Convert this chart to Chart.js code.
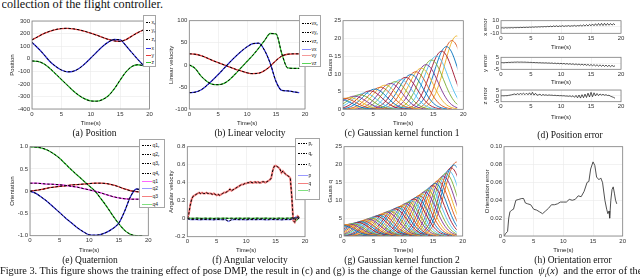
<!DOCTYPE html>
<html>
<head>
<meta charset="utf-8">
<script src="https://cdn.jsdelivr.net/npm/chart.js@4.4.1/dist/chart.umd.min.js"></script>
<style>
body{margin:0;width:640px;height:280px;overflow:hidden;background:#fff;position:relative;font-family:"Liberation Serif",serif}
.cap{position:absolute;font-size:9.5px;color:#111;white-space:nowrap;transform:translate(-50%,-50%)}
.txt{position:absolute;left:0;width:640px;overflow:hidden;white-space:nowrap;color:#111}
.lg{position:absolute;background:#fff;border:0.8px solid #a5a5a5;font:5px "Liberation Sans",sans-serif;color:#222;z-index:5;box-sizing:border-box}
.lg div{position:absolute;left:1.5px;height:6px;line-height:6px;white-space:nowrap;transform:translateY(-50%)}
.lg i{display:inline-block;vertical-align:middle;height:1px;margin-right:1px}
.lg i.d{background:repeating-linear-gradient(90deg,#000 0 1.6px,transparent 1.6px 2.6px)}
.lg sub{font-size:4px;vertical-align:-1.2px}
</style>
</head>
<body>
<div class="txt" style="top:-3px;font-size:12.2px;left:1.5px">collection of the flight controller.</div>

<script>
// ---- sample times
const tSec = [0,1,2,3,4,5,6,7,8,9,10,11,12,13,14,15,16,17,18,19];

// (a) position
const posX = [130,85,35,-20,-60,-90,-104,-100,-78,-40,5,52,97,132,153,150,103,48,-5,-55];
const posY = [150,175,200,218,232,240,242,238,230,218,203,187,170,153,142,138,152,180,207,230];
const posZ = [-18,-22,-40,-75,-120,-165,-210,-255,-292,-320,-336,-338,-325,-295,-240,-170,-105,-62,-48,-55];

// (b) linear velocity
const velX = [-63,-62,-57,-47,-35,-22,-8,6,19,31,41,48,49,33,3,-38,-58,-59,-61,-63];
const velY = [25,24,21,16,10,5,0,-5,-10,-14,-18,-20,-19,-13,-3,10,20,24,25,25];
const velZ = [0,-8,-25,-37,-44,-45,-42,-33,-20,-6,8,22,38,55,71,70,25,-7,-8,-8];

// (e) quaternion
const quat1 = [0.18,0.18,0.17,0.16,0.155,0.145,0.13,0.11,0.09,0.06,0.03,0,-0.04,-0.08,-0.12,-0.15,-0.17,-0.18,-0.18,-0.18];
const quat2 = [0,-0.05,-0.14,-0.24,-0.36,-0.48,-0.6,-0.71,-0.82,-0.91,-0.98,-0.99,-0.97,-0.92,-0.84,-0.72,-0.45,-0.12,0.05,0.02];
const quat3 = [0,0.02,0.04,0.07,0.09,0.11,0.12,0.14,0.15,0.16,0.17,0.18,0.18,0.17,0.14,0.1,0.05,0.01,-0.01,-0.02];
const quat4 = [1,0.99,0.97,0.92,0.84,0.74,0.61,0.48,0.36,0.24,0.12,0,-0.17,-0.35,-0.55,-0.73,-0.88,-0.97,-1,-1];

// (f) angular velocity, q every 0.25 s, p and r every 0.5 s
const angQ = [0.00,0.05,0.15,0.22,0.25,0.26,0.27,0.28,0.29,0.28,0.29,0.28,0.28,0.29,0.28,0.28,0.28,
  0.27,0.28,0.27,0.26,0.27,0.26,0.27,0.28,0.29,0.29,0.30,0.31,0.33,0.31,0.32,0.33,
  0.34,0.35,0.36,0.37,0.38,0.38,0.39,0.39,0.40,0.40,0.41,0.40,0.40,0.41,0.40,0.41,
  0.40,0.40,0.41,0.41,0.40,0.41,0.42,0.43,0.45,0.53,0.58,0.59,0.58,0.57,0.55,0.51,
  0.53,0.51,0.49,0.48,0.47,0.45,0.25,-0.02,-0.04,0.01,0.03,0.01];
const angP = [0,-0.01,-0.01,-0.008,-0.012,-0.01,-0.009,-0.011,-0.01,-0.012,-0.008,-0.01,-0.011,-0.01,-0.03,-0.012,-0.009,-0.01,-0.011,-0.01,
  -0.012,-0.009,-0.01,-0.011,-0.01,-0.008,-0.01,-0.012,-0.01,-0.009,-0.011,-0.01,-0.012,-0.01,-0.009,-0.01,0.0,0.02,0.0];
const angR = [0.005,0.006,0.004,0.007,0.005,0.003,0.006,0.004,0.005,0.002,0.006,0.004,0.005,0.006,0.004,0.005,0.003,0.006,0.005,0.004,
  0.006,0.005,0.003,0.005,0.006,0.004,0.005,0.006,0.004,0.005,0.003,0.006,0.005,0.004,0.006,0.005,0.01,-0.02,0.01];

// (d) position errors every 0.25 s
const errX = [-1.5,-1.2,-1.8,-1.0,-1.6,-1.1,-1.4,-0.9,-1.5,-0.8,-1.2,-0.7,-1.1,-0.5,-1.0,-0.4,-0.8,
  -0.3,-0.7,-0.1,-0.5,0.1,-0.4,0.3,-0.2,0.4,0.0,0.6,0.1,0.8,0.2,1.0,0.4,
  1.4,0.3,1.8,0.6,2.0,0.5,1.7,0.9,2.2,0.8,1.9,1.2,2.3,1.0,2.0,1.4,
  2.6,1.1,2.4,1.6,2.9,1.3,3.4,1.5,3.8,1.6,4.2,1.9,4.8,2.0,5.2,2.2,
  5.6,2.4,5.8,2.3,5.9,2.6,5.7,2.8,5.5,3.0,5.2,3.4];
const errY = [0.5,0.6,0.4,0.7,0.6,0.8,0.7,0.9,0.8,1.0,0.9,1.1,0.9,1.0,1.0,0.9,1.0,
  0.8,0.9,0.7,0.8,0.6,0.7,0.5,0.6,0.4,0.5,0.3,0.4,0.2,0.4,0.1,0.3,
  0.0,0.3,-0.2,0.2,-0.3,0.1,-0.4,0.0,-0.5,-0.1,-0.7,-0.2,-0.8,-0.3,-0.9,-0.4,
  -1.1,-0.5,-1.2,-0.6,-1.4,-0.7,-1.5,-0.8,-1.7,-0.9,-1.9,-1.0,-2.0,-1.1,-2.2,-1.2,
  -2.4,-1.3,-2.5,-1.4,-2.6,-1.5,-2.7,-1.6,-2.8,-1.7,-2.6,-2.1];
const errZ = [0.0,0.1,0.0,0.2,0.1,0.4,0.6,0.9,1.2,1.6,1.0,1.9,1.1,2.0,1.2,2.2,1.0,
  2.3,0.9,2.6,0.8,3.0,0.6,2.2,0.5,0.9,1.4,0.3,1.2,0.5,0.9,0.4,0.8,
  0.5,0.6,0.3,0.5,0.2,0.3,0.1,0.2,0.0,0.1,-0.2,-0.1,-0.4,0.0,-0.7,0.1,
  -1.3,0.4,-1.7,0.7,-1.9,1.0,-1.6,1.5,-1.4,2.3,-1.0,3.0,-0.8,2.6,0.0,2.0,
  0.2,1.6,0.6,1.3,0.5,1.0,0.3,0.5,-0.3,-0.8,-1.3,-2.0];

// (h) orientation error
const oriTime = [0,0.3,0.6,0.8,1,1.3,1.6,2,2.5,3,3.3,3.6,4,4.5,5,5.5,6,6.5,7,7.5,8,8.5,9,9.5,10,10.5,11,11.5,12,12.5,13,13.5,14,14.3,14.6,15,15.3,15.6,16,16.3,16.6,17,17.3,17.5,17.7,17.8,18,18.2,18.4,18.6,18.8,19];
const oriErr = [0,0.003,0.005,0.02,0.027,0.029,0.03,0.04,0.041,0.042,0.042,0.037,0.036,0.035,0.03,0.029,0.027,0.025,0.028,0.031,0.035,0.035,0.036,0.038,0.038,0.038,0.041,0.04,0.041,0.045,0.044,0.05,0.06,0.061,0.075,0.083,0.079,0.066,0.063,0.065,0.06,0.04,0.03,0.025,0.028,0.02,0.04,0.052,0.055,0.048,0.04,0.036];

// (c)/(g) gaussian kernels: centres, peak heights, and one bell profile
const kernOff = [-6,-5.5,-5,-4.5,-4,-3.5,-3,-2.5,-2,-1.5,-1,-0.5,0,0.5,1,1.5,2,2.5,3,3.5,4,4.5,5,5.5,6];
const kernShape = [0.011,0.023,0.044,0.080,0.135,0.216,0.325,0.458,0.607,0.755,0.883,0.969,1,0.969,0.883,0.755,0.607,0.458,0.325,0.216,0.135,0.080,0.044,0.023,0.011];
const pCentre = [-0.6,0.2,1.1,1.9,2.8,3.6,4.5,5.3,6.2,7.0,7.9,8.7,9.6,10.4,11.3,12.1,13.0,13.8,14.7,15.5,16.4,17.2,18.1,18.9];
const pPeak = [2.9,3.1,3.3,3.7,4.1,4.6,5.2,5.7,6.2,6.8,7.3,7.8,8.4,9.0,9.8,10.6,11.6,12.6,13.9,15.0,16.4,17.7,19.4,20.7];
const qCentre = [-0.4,0.05,0.5,0.95,1.4,1.85,2.3,2.75,3.2,3.65,4.1,4.55,5.0,5.45,5.9,6.35,6.8,7.25,7.7,8.15,8.6,9.05,9.5,9.95,10.4,10.85,11.3,11.75,12.2,12.65,13.1,13.55,14.0,14.45,14.9,15.35,15.8,16.25,16.7,17.15,17.6,18.05,18.5,18.95];
const qPeak = [3.0,3.1,3.2,3.3,3.45,3.6,3.8,4.0,4.25,4.5,4.75,5.0,5.3,5.55,5.8,6.1,6.4,6.7,7.0,7.3,7.6,7.95,8.3,8.65,9.05,9.45,9.9,10.35,10.8,11.3,11.8,12.35,12.9,13.5,14.1,14.75,15.4,16.1,16.8,17.5,18.3,19.1,19.9,20.7];

const matlabColors = ['#0072BD','#D95319','#EDB120','#7E2F8E','#77AC30','#4DBEEE','#A2142F'];
const BLUE = '#3434e6', RED = '#e63c3c', GREEN = '#33c433', MAGENTA = '#ee44ee';
const SANS = '"Liberation Sans", Arial, sans-serif';

function pts(xs, ys) { return ys.map((y, i) => ({x: xs[i], y: y})); }
function stepPts(step, ys) { return ys.map((y, i) => ({x: i * step, y: y})); }
function ref(data) { return {data: data, borderColor: '#000', borderWidth: 1, borderDash: [2.5, 1.8], cubicInterpolationMode: 'monotone'}; }
function solid(data, col, w) { return {data: data, borderColor: col, borderWidth: w || 1.3, cubicInterpolationMode: 'monotone'}; }
function kernels(centres, peaks, clipR) {
    return centres.map((c, k) => ({
        data: kernOff.map((o, i) => ({x: c + o, y: peaks[k] * kernShape[i]})),
        borderColor: matlabColors[k % 7], borderWidth: 0.9, tension: 0.35,
        clip: {left: 0, top: 0, right: clipR, bottom: 0}
    }));
}

const boxPlugin = {
    id: 'box',
    afterDatasetsDraw(chart) {
        const a = chart.chartArea, ctx = chart.ctx;
        ctx.save();
        ctx.strokeStyle = '#808080';
        ctx.lineWidth = 0.8;
        ctx.strokeRect(a.left, a.top, a.right - a.left, a.bottom - a.top);
        ctx.restore();
    }
};

// rect = [left, top, right, bottom] of the plot box, yt/xt = title distance from box
function plot(rect, o) {
    const [l, t, r, b] = rect;
    const left = Math.floor(l - o.yW), top = Math.floor(t - 6);
    const width = Math.ceil(r + 8) - left, height = Math.ceil(b + o.xH) - top;
    const yW = l - left, padT = t - top, padR = left + width - r, xH = top + height - b;
    const cv = document.createElement('canvas');
    cv.width = width; cv.height = height;
    cv.style.cssText = 'position:absolute;left:' + left + 'px;top:' + top + 'px;width:' + width + 'px;height:' + height + 'px';
    document.body.appendChild(cv);
    const fs = o.fs || 6, lh = fs * 1.2;
    const font = {family: SANS, size: fs};
    const grid = {color: '#e9e9e9', lineWidth: 0.6, drawTicks: false};
    new Chart(cv, {
        type: 'line',
        data: {datasets: o.sets},
        plugins: [boxPlugin],
        options: {
            responsive: false, animation: false, events: [], devicePixelRatio: 1,
            layout: {padding: {left: 0, top: padT, right: padR, bottom: 0}},
            plugins: {legend: {display: false}, tooltip: {enabled: false}},
            elements: {point: {radius: 0}, line: {borderWidth: 1}},
            scales: {
                x: {
                    type: 'linear', min: 0, max: 20,
                    afterFit: s => { s.height = xH; },
                    grid: grid, border: {display: false},
                    ticks: {stepSize: 5, autoSkip: false, maxRotation: 0, padding: 1.5, font: font, color: '#333'},
                    title: {display: true, text: 'Time(s)', font: font, color: '#222', padding: {top: 0, bottom: xH - o.xt - lh / 2}}
                },
                y: {
                    min: o.y[0], max: o.y[1],
                    afterFit: s => { s.width = yW; },
                    grid: grid, border: {display: false},
                    ticks: {stepSize: o.y[2], autoSkip: false, padding: 2, font: font, color: '#333'},
                    title: {display: true, text: o.label, font: font, color: '#222', padding: {top: yW - o.yt - lh / 2, bottom: 0}}
                }
            }
        }
    });
}

// (a) Position
plot([32, 21, 149.5, 109], {yW: 24, xH: 20, yt: 19.3, xt: 14, y: [-400, 300, 100], label: 'Position',
    sets: [ref(pts(tSec, posX)), ref(pts(tSec, posY)), ref(pts(tSec, posZ)),
           solid(pts(tSec, posX), BLUE), solid(pts(tSec, posY), RED), solid(pts(tSec, posZ), GREEN)]});

// (b) Linear velocity
plot([189.3, 20.7, 305, 109], {yW: 24, xH: 20, yt: 17.6, xt: 14.3, y: [-100, 100, 50], label: 'Linear velocity',
    sets: [ref(pts(tSec, velX)), ref(pts(tSec, velY)), ref(pts(tSec, velZ)),
           solid(pts(tSec, velX), BLUE), solid(pts(tSec, velY), RED), solid(pts(tSec, velZ), GREEN)]});

// (c) Gaussian kernel function 1
plot([343, 20.7, 463.3, 109.3], {yW: 20, xH: 20, yt: 13, xt: 14, y: [0, 25, 5], label: 'Gauss p',
    sets: kernels(pCentre, pPeak, -(463.3 - 343) / 20)});

// (d) Position error
plot([501, 20.7, 621, 33.3], {yW: 20, xH: 17, yt: 16, xt: 13.7, y: [-10, 10, 10], label: 'x error', sets: [{data: stepPts(0.25, errX), borderColor: '#111', borderWidth: 0.7}]});
plot([501, 57.3, 621, 69.3], {yW: 20, xH: 17, yt: 16, xt: 13.4, y: [-5, 5, 5], label: 'y error', sets: [{data: stepPts(0.25, errY), borderColor: '#111', borderWidth: 0.7}]});
plot([501, 90, 621, 101.7], {yW: 20, xH: 19, yt: 16, xt: 15.6, y: [-5, 5, 5], label: 'z error', sets: [{data: stepPts(0.25, errZ), borderColor: '#111', borderWidth: 0.7}]});

// (e) Quaternion
plot([30, 146.7, 148.3, 235.7], {yW: 24, xH: 20, yt: 17.3, xt: 15, y: [-1, 1, 0.5], label: 'Orientation',
    sets: [ref(pts(tSec, quat1)), ref(pts(tSec, quat2)), ref(pts(tSec, quat3)), ref(pts(tSec, quat4)),
           solid(pts(tSec, quat1), MAGENTA), solid(pts(tSec, quat2), BLUE), solid(pts(tSec, quat3), RED), solid(pts(tSec, quat4), GREEN)]});

// (f) Angular velocity
plot([187.3, 146.7, 305, 236.7], {yW: 24, xH: 20, yt: 15.6, xt: 14, y: [-0.2, 0.8, 0.2], label: 'Angular velocity',
    sets: [{data: stepPts(0.5, angP), borderColor: '#000', borderWidth: 1, borderDash: [2.5, 1.8]},
           {data: stepPts(0.25, angQ), borderColor: '#000', borderWidth: 1, borderDash: [2.5, 1.8]},
           {data: stepPts(0.5, angR), borderColor: '#000', borderWidth: 1, borderDash: [2.5, 1.8]},
           {data: stepPts(0.5, angP), borderColor: '#8a8aff', borderWidth: 1.3},
           {data: stepPts(0.25, angQ), borderColor: '#f27a7a', borderWidth: 2},
           {data: stepPts(0.5, angR), borderColor: '#5ad65a', borderWidth: 1.3}]});

// (g) Gaussian kernel function 2
plot([344, 146.7, 462.7, 236], {yW: 20, xH: 20, yt: 13.3, xt: 14.7, y: [0, 25, 5], label: 'Gauss q',
    sets: kernels(qCentre, qPeak, -(462.7 - 344) / 20)});

// (h) Orientation error
plot([504, 146.7, 622.7, 236], {yW: 24, xH: 20, yt: 17, xt: 14.7, y: [0, 0.1, 0.02], label: 'Orientation error',
    sets: [{data: pts(oriTime, oriErr), borderColor: '#3c3c3c', borderWidth: 0.9}]});
</script>

<!-- legends -->
<div class="lg" style="left:143px;top:15px;width:13px;height:52px">
  <div style="top:5.7px"><i class="d" style="width:5px"></i>x<sub>r</sub></div>
  <div style="top:14.3px"><i class="d" style="width:5px"></i>y<sub>r</sub></div>
  <div style="top:23.3px"><i class="d" style="width:5px"></i>z<sub>r</sub></div>
  <div style="top:32.3px"><i style="width:5px;background:#3434e6"></i>x</div>
  <div style="top:39px"><i style="width:5px;background:#e63c3c"></i>y</div>
  <div style="top:46px"><i style="width:5px;background:#33c433"></i>z</div>
</div>
<div class="lg" style="left:299px;top:15px;width:22px;height:52px">
  <div style="top:6.7px"><i class="d" style="width:9px"></i>vx<sub>r</sub></div>
  <div style="top:15.7px"><i class="d" style="width:9px"></i>vy<sub>r</sub></div>
  <div style="top:25px"><i class="d" style="width:9px"></i>vz<sub>r</sub></div>
  <div style="top:33.3px"><i style="width:9px;background:#8a8aff"></i>vx</div>
  <div style="top:39.3px"><i style="width:9px;background:#f59a9a"></i>vy</div>
  <div style="top:46.7px"><i style="width:9px;background:#5ad65a"></i>vz</div>
</div>
<div class="lg" style="left:139px;top:139px;width:26px;height:69px">
  <div style="top:5px"><i class="d" style="width:10px"></i>q1<sub>r</sub></div>
  <div style="top:14px"><i class="d" style="width:10px"></i>q2<sub>r</sub></div>
  <div style="top:23px"><i class="d" style="width:10px"></i>q3<sub>r</sub></div>
  <div style="top:33px"><i class="d" style="width:10px"></i>q4<sub>r</sub></div>
  <div style="top:41px"><i style="width:10px;background:#ff66ff"></i>q1</div>
  <div style="top:48px"><i style="width:10px;background:#9a9aff"></i>q2</div>
  <div style="top:56px"><i style="width:10px;background:#f58080"></i>q3</div>
  <div style="top:64px"><i style="width:10px;background:#80e080"></i>q4</div>
</div>
<div class="lg" style="left:295px;top:138px;width:25px;height:62px">
  <div style="top:4.3px"><i class="d" style="width:10px"></i>p<sub>r</sub></div>
  <div style="top:14.3px"><i class="d" style="width:10px"></i>q<sub>r</sub></div>
  <div style="top:25.3px"><i class="d" style="width:10px"></i>r<sub>r</sub></div>
  <div style="top:36.3px"><i style="width:10px;background:#9a9aff"></i>p</div>
  <div style="top:43.7px"><i style="width:10px;background:#f58080"></i>q</div>
  <div style="top:51px"><i style="width:10px;background:#80e080"></i>r</div>
</div>

<!-- captions -->
<div class="cap" style="left:94.5px;top:133px">(a) Position</div>
<div class="cap" style="left:250px;top:133px">(b) Linear velocity</div>
<div class="cap" style="left:402px;top:133px">(c) Gaussian kernel function 1</div>
<div class="cap" style="left:570px;top:135px">(d) Position error</div>
<div class="cap" style="left:90px;top:260px">(e) Quaternion</div>
<div class="cap" style="left:250px;top:260px">(f) Angular velocity</div>
<div class="cap" style="left:402px;top:260px">(g) Gaussian kernel function 2</div>
<div class="cap" style="left:573px;top:260px">(h) Orientation error</div>
<div class="txt" style="top:264.5px;font-size:10.3px">Figure 3. This figure shows the training effect of pose DMP, the result in (c) and (g) is the change of the Gaussian kernel function &nbsp;<i>ψ</i><sub style="font-size:7px"><i>i</i></sub>(<i>x</i>)&nbsp; and the error of the trajectory</div>
</body>
</html>
